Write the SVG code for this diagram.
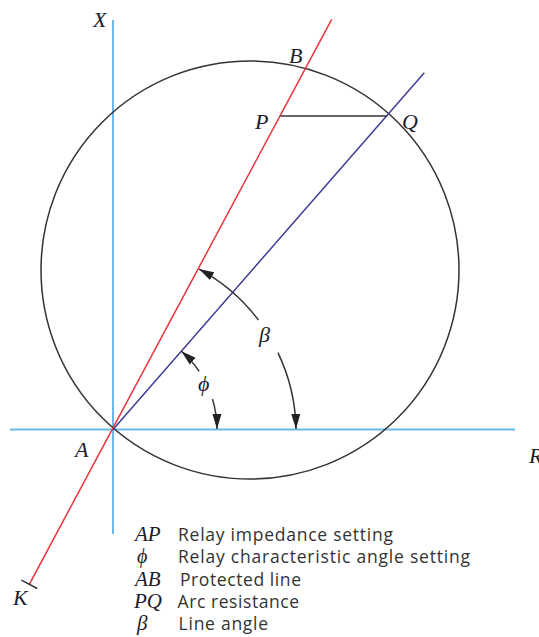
<svg xmlns="http://www.w3.org/2000/svg" width="539" height="637" viewBox="0 0 539 637">
<style>
.axis{stroke:#6cb8ea;stroke-width:2;fill:none}
.red{stroke:#e8333c;stroke-width:1.5;fill:none}
.blue{stroke:#3d3d98;stroke-width:1.5;fill:none}
.dark{stroke:#333;stroke-width:1.5;fill:none}
.arr{stroke:#333;stroke-width:1.5;fill:none;marker-end:url(#ah)}
.lbl{font-family:"Liberation Serif","Times New Roman",serif;font-style:italic;font-size:22px;fill:#1c1c2c}
.sym{font-family:"Liberation Serif","Times New Roman",serif;font-style:italic;font-size:21px;fill:#1c1c2c}
.txt{font-family:"Open Sans","Liberation Sans",sans-serif;font-size:17.5px;fill:#333}
</style>
<defs>
<marker id="ah" markerUnits="userSpaceOnUse" markerWidth="15" markerHeight="10" viewBox="0 0 15 10" refX="15" refY="5" orient="auto">
<path d="M0,0.5 L15,5 L0,9.5 z" fill="#222"/>
</marker>
</defs>
<rect width="539" height="637" fill="#fff"/>
<g id="axes">
<line class="axis" x1="113" y1="20" x2="113" y2="534"/>
<line class="axis" x1="10" y1="429.5" x2="515" y2="429.5"/>
</g>
<g id="circle">
<circle class="dark" cx="250" cy="270" r="209"/>
</g>
<g id="connectors">
<line class="red" x1="29.3" y1="584.3" x2="331.7" y2="19.3"/>
<line class="dark" x1="21.4" y1="580.1" x2="37.2" y2="588.5"/>
<line class="blue" x1="113" y1="429.5" x2="424.3" y2="72.7"/>
<line class="dark" x1="280.6" y1="116" x2="387" y2="116"/>
<path class="arr" d="M258.4,320 A182,182 0 0,0 199,269.1"/>
<path class="arr" d="M277.9,352.6 A183,183 0 0,1 296,429"/>
<path class="arr" d="M199.2,371.3 A104,104 0 0,0 181.4,351.2"/>
<path class="arr" d="M212.5,399.1 A104,104 0 0,1 217,429"/>
</g>
<g id="labels">
<text class="lbl" x="93" y="27">X</text>
<text class="lbl" x="289" y="62.5">B</text>
<text class="lbl" x="255" y="129">P</text>
<text class="lbl" x="402" y="129">Q</text>
<text class="lbl" x="75" y="456.5">A</text>
<text class="lbl" x="529" y="462.5">R</text>
<text class="lbl" x="13" y="605">K</text>
<text class="lbl" x="259" y="342">β</text>
<text class="lbl" x="198" y="391">ϕ</text>
</g>
<g id="legend">
<text class="sym" x="135" y="541">AP</text>
<text class="txt" x="178" y="541" textLength="215" lengthAdjust="spacing">Relay impedance setting</text>
<text class="sym" x="137" y="563" style="font-size:20px">ϕ</text>
<text class="txt" x="178" y="563" textLength="292" lengthAdjust="spacing">Relay characteristic angle setting</text>
<text class="sym" x="135" y="585.5">AB</text>
<text class="txt" x="180" y="585.5" textLength="121" lengthAdjust="spacing">Protected line</text>
<text class="sym" x="134" y="607.5">PQ</text>
<text class="txt" x="177.6" y="607.5" textLength="121.5" lengthAdjust="spacing">Arc resistance</text>
<text class="sym" x="137" y="629.5">β</text>
<text class="txt" x="178.6" y="629.5" textLength="89.5" lengthAdjust="spacing">Line angle</text>
</g>
</svg>
